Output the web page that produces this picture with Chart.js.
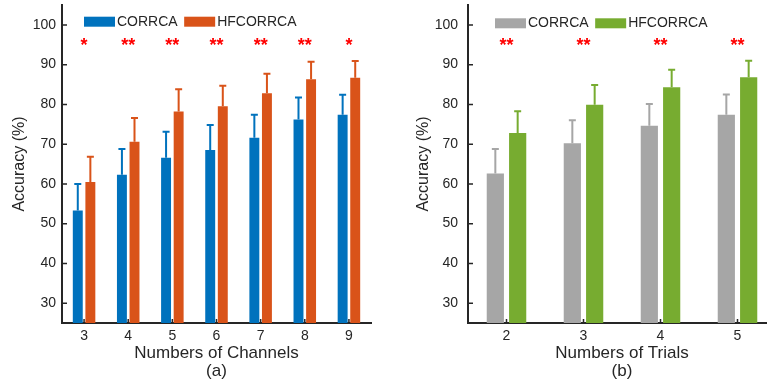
<!DOCTYPE html>
<html>
<head>
<meta charset="utf-8">
<script src="https://cdn.jsdelivr.net/npm/chart.js@4"></script>
<style>
  html, body { margin: 0; padding: 0; background: #fff; overflow: hidden; }
  #wrap { position: relative; width: 767px; height: 385px; overflow: hidden; }
  canvas { position: absolute; top: 0; }
  #chartA { left: 0; }
  #chartB { left: 384px; }
</style>
</head>
<body>
<div id="wrap">
  <canvas id="chartA" width="384" height="385"></canvas>
  <canvas id="chartB" width="400" height="385"></canvas>
</div>
<script>
// ── Data ────────────────────────────────────────────────────────────────────
const channels = ['3', '4', '5', '6', '7', '8', '9'];
const trials = ['2', '3', '4', '5'];
const yTicks = [30, 40, 50, 60, 70, 80, 90, 100];

const chanCorrca   = [53.3, 62.3, 66.6, 68.5, 71.6, 76.2, 77.4];
const chanCorrcaSd = [6.7, 6.5, 6.5, 6.3, 5.8, 5.5, 5.0];
const chanHf       = [60.5, 70.6, 78.2, 79.5, 82.8, 86.3, 86.7];
const chanHfSd     = [6.3, 6.0, 5.6, 5.2, 4.9, 4.4, 4.2];
const chanSig      = ['*', '**', '**', '**', '**', '**', '*'];

const trialCorrca   = [62.6, 70.2, 74.6, 77.4];
const trialCorrcaSd = [6.2, 5.8, 5.5, 5.1];
const trialHf       = [72.8, 79.9, 84.3, 86.8];
const trialHfSd     = [5.5, 5.0, 4.4, 4.2];
const trialSig      = ['**', '**', '**', '**'];

const FONT = "'Liberation Sans', Arial, Helvetica, sans-serif";
const INK = '#262626';

Chart.defaults.font.family = FONT;
Chart.defaults.color = INK;

// error bars, inward ticks, stars and legend
const extras = {
    id: 'extras',
    afterDatasetsDraw(chart, args, opts) {
        const ctx = chart.ctx;
        const y = chart.scales.y;
        ctx.save();
        chart.data.datasets.forEach((ds, di) => {
            const meta = chart.getDatasetMeta(di);
            ctx.strokeStyle = ds.backgroundColor;
            ctx.lineWidth = 2;
            meta.data.forEach((bar, i) => {
                const top = y.getPixelForValue(ds.data[i] + opts.errors[di][i]);
                ctx.beginPath();
                ctx.moveTo(bar.x, bar.y);
                ctx.lineTo(bar.x, top);
                ctx.moveTo(bar.x - 3.5, top);
                ctx.lineTo(bar.x + 3.5, top);
                ctx.stroke();
            });
        });
        ctx.restore();
    },
    afterDraw(chart, args, opts) {
        const ctx = chart.ctx;
        const area = chart.chartArea;
        const x = chart.scales.x;
        const y = chart.scales.y;
        ctx.save();

        // inward tick marks
        ctx.strokeStyle = INK;
        ctx.lineWidth = 1.5;
        ctx.beginPath();
        y.ticks.forEach(t => {
            const py = y.getPixelForValue(t.value);
            ctx.moveTo(area.left, py);
            ctx.lineTo(area.left + 5, py);
        });
        x.ticks.forEach((t, i) => {
            const px = x.getPixelForTick(i);
            ctx.moveTo(px, area.bottom);
            ctx.lineTo(px, area.bottom - 4);
        });
        ctx.stroke();

        // significance stars
        ctx.fillStyle = '#ff0000';
        ctx.font = 'bold 18px ' + FONT;
        ctx.textAlign = 'center';
        ctx.textBaseline = 'alphabetic';
        const sy = y.getPixelForValue(opts.sigValue) + 10.4;
        opts.sig.forEach((s, i) => {
            ctx.fillText(s, x.getPixelForTick(i), sy);
        });

        // legend
        ctx.font = '14px ' + FONT;
        ctx.textAlign = 'left';
        ctx.textBaseline = 'middle';
        let lx = opts.legendX;
        const ly = opts.legendY;
        chart.data.datasets.forEach(ds => {
            ctx.fillStyle = ds.backgroundColor;
            ctx.fillRect(lx, ly - 5, 31, 10);
            ctx.fillStyle = INK;
            ctx.fillText(ds.label, lx + 33, ly);
            lx += 33 + ctx.measureText(ds.label).width + 6.5;
        });
        ctx.restore();
    }
};

function makeChart(id, cfg) {
    return new Chart(document.getElementById(id), {
        type: 'bar',
        data: {
            labels: cfg.labels,
            datasets: [
                { label: 'CORRCA', data: cfg.a, backgroundColor: cfg.colors[0],
                  categoryPercentage: cfg.cp, barPercentage: cfg.bp },
                { label: 'HFCORRCA', data: cfg.b, backgroundColor: cfg.colors[1],
                  categoryPercentage: cfg.cp, barPercentage: cfg.bp }
            ]
        },
        options: {
            responsive: false,
            animation: false,
            devicePixelRatio: 1,
            layout: { padding: { left: 0, top: 5, right: cfg.padRight, bottom: 0 } },
            plugins: {
                legend: { display: false },
                tooltip: { enabled: false },
                extras: {
                    errors: cfg.err,
                    sig: cfg.sig,
                    sigValue: 96,
                    legendX: cfg.legendX,
                    legendY: cfg.legendY
                }
            },
            scales: {
                x: {
                    grid: { display: false, drawTicks: false },
                    border: { display: true, color: INK, width: 2 },
                    ticks: { font: { size: 14 }, color: INK, padding: 5 },
                    title: {
                        display: true,
                        text: [cfg.xTitle, cfg.caption],
                        font: { size: 17, lineHeight: '17.2px' },
                        color: INK,
                        padding: { top: 0, bottom: 5.4 }
                    },
                    afterFit: s => {
                        s.height = 62;
                        s.paddingLeft = 0;
                        s.paddingRight = 0;
                    }
                },
                y: {
                    min: 25,
                    max: 105,
                    afterBuildTicks: s => { s.ticks = yTicks.map(v => ({ value: v })); },
                    grid: { display: false, drawTicks: false },
                    border: { display: true, color: INK, width: 2 },
                    ticks: { font: { size: 14 }, color: INK, padding: cfg.yPad },
                    title: {
                        display: true,
                        text: 'Accuracy (%)',
                        font: { size: 16, lineHeight: 1.2 },
                        color: INK,
                        padding: { top: cfg.yTitlePad, bottom: 0 }
                    },
                    afterFit: s => {
                        s.width = cfg.yWidth;
                        s.paddingTop = 0;
                        s.paddingBottom = 0;
                    }
                }
            }
        },
        plugins: [extras]
    });
}

makeChart('chartA', {
    labels: channels,
    a: chanCorrca, b: chanHf,
    err: [chanCorrcaSd, chanHfSd],
    sig: chanSig,
    colors: ['#0072BD', '#D95319'],
    cp: 0.57, bp: 0.79,
    padRight: 13,
    yWidth: 62,
    yPad: 6,
    yTitlePad: 10.4,
    legendX: 84, legendY: 21.7,
    xTitle: 'Numbers of Channels',
    caption: '(a)'
});

makeChart('chartB', {
    labels: trials,
    a: trialCorrca, b: trialHf,
    err: [trialCorrcaSd, trialHfSd],
    sig: trialSig,
    colors: ['#A6A6A6', '#77AC30'],
    cp: 0.58, bp: 0.77,
    padRight: 8,
    yWidth: 84,
    yPad: 10,
    yTitlePad: 30.4,
    legendX: 111, legendY: 23.3,
    xTitle: 'Numbers of Trials',
    caption: '(b)'
});
</script>
</body>
</html>
